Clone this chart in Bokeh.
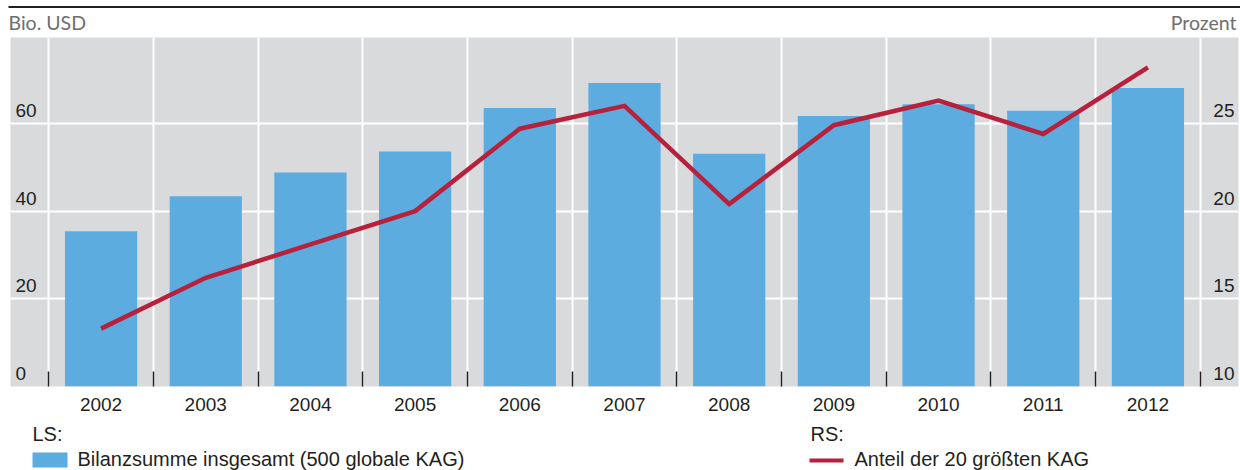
from bokeh.plotting import figure
from bokeh.layouts import column
from bokeh.models import Range1d, FixedTicker, ColumnDataSource
from bokeh.core.properties import value
from bokeh.embed import file_html
from bokeh.resources import INLINE

# Balance sheet total of the 500 largest asset managers and share of the top 20
years = ["2002", "2003", "2004", "2005", "2006", "2007",
         "2008", "2009", "2010", "2011", "2012"]
totals = [35.4, 43.4, 48.8, 53.6, 63.5, 69.2, 53.1, 61.7, 64.4, 62.9, 68.1]
share_top20 = [13.3, 16.2, 18.1, 20.0, 24.7, 26.0, 20.4, 24.9, 26.3, 24.4, 28.2]

left_ticks = [0, 20, 40, 60]
left_labels = ["0", "20", "40", "60"]
right_ticks = [10, 15, 20, 25]
right_labels = ["10", "15", "20", "25"]

left_unit = "Bio. USD"
right_unit = "Prozent"
bar_title, bar_name = "LS:", "Bilanzsumme insgesamt (500 globale KAG)"
line_title, line_name = "RS:", "Anteil der 20 größten KAG"

BAR = "#5cacdf"
LINE = "#b7213b"
BG = "#d9dadc"
INK = "#231f20"
GREY = "#6d6e70"
FONT = "Liberation Sans"
FS = "19px"
KEY_FS = "20px"
W = 1240


def strip(height):
    """A plain pixel-space strip (y grows downward) for header and key."""
    f = figure(width=W, height=height, x_range=Range1d(0, W),
               y_range=Range1d(height, 0), output_backend="svg",
               toolbar_location=None, x_axis_location=None,
               y_axis_location=None, min_border=0)
    f.grid.visible = False
    f.outline_line_color = None
    f.background_fill_color = "white"
    f.border_fill_color = "white"
    return f


# ---- header: rule and unit captions
head = strip(37)
head.quad(left=[8], right=[W], top=[5.5], bottom=[7.6], fill_color=INK,
          line_color=None)
head.text(x=[8, 1236], y=[22, 22], text=[left_unit, right_unit],
          text_align=["left", "right"], text_font=value("Lato"),
          text_font_size=value("19.5px"), text_color=GREY,
          text_baseline="alphabetic")

# ---- main chart
xs = list(range(len(years)))
x_range = Range1d(-0.865, len(years) - 1 + 0.865)
y_range = Range1d(0, 79.6)

p = figure(width=W, height=383, x_range=x_range, y_range=y_range,
           output_backend="svg", toolbar_location=None, y_axis_location=None,
           min_border_left=10, min_border_right=2, min_border_top=0,
           min_border_bottom=34)
p.extra_y_ranges = {"right": Range1d(10, 29.9)}
p.background_fill_color = BG
p.border_fill_color = "white"
p.outline_line_color = None

# grid: vertical lines between the years, horizontal at the left-axis ticks
p.xgrid.ticker = FixedTicker(ticks=[i - 0.5 for i in range(len(years) + 1)])
p.ygrid.ticker = FixedTicker(ticks=left_ticks[1:])
for g in (p.xgrid, p.ygrid):
    g.grid_line_color = "white"
    g.grid_line_width = 2

# x axis: year labels, small inward ticks between the years
ax = p.xaxis[0]
ax.ticker = FixedTicker(ticks=xs, minor_ticks=[i - 0.5 for i in range(len(years) + 1)])
ax.major_label_overrides = {i: y for i, y in enumerate(years)}
ax.axis_line_color = None
ax.major_tick_line_color = None
ax.minor_tick_in = 15
ax.minor_tick_out = 0
ax.minor_tick_line_color = INK
ax.minor_tick_line_width = 1.5
ax.major_label_text_font = FONT
ax.major_label_text_font_size = FS
ax.major_label_text_color = INK
ax.major_label_standoff = 5

src = ColumnDataSource(dict(x=xs, year=years, total=totals, share=share_top20))
bars = p.vbar(x="x", top="total", width=0.69, bottom=0, source=src,
              fill_color=BAR, line_color=None)
line = p.line(x="x", y="share", source=src, y_range_name="right",
              line_color=LINE, line_width=4.5, line_join="miter")

# tick labels drawn inside the plot area, just above their grid lines
p.text(x=[x_range.start] * len(left_ticks), y=left_ticks, text=left_labels,
       x_offset=5, y_offset=-13, text_align="left", text_baseline="alphabetic",
       text_font=value(FONT), text_font_size=value(FS), text_color=INK)
p.text(x=[x_range.end] * len(right_ticks), y=right_ticks, text=right_labels,
       y_range_name="right", x_offset=-4, y_offset=-13, text_align="right",
       text_baseline="alphabetic",
       text_font=value(FONT), text_font_size=value(FS), text_color=INK)

# ---- key below the chart
key = strip(50)
key.text(x=[32, 810], y=[13.7, 13.7], text=[bar_title, line_title],
         text_font=value(FONT), text_font_size=value(KEY_FS), text_color=INK,
         text_baseline="alphabetic")
key.quad(left=[32], right=[67], top=[32], bottom=[47], fill_color=BAR,
         line_color=None)
key.segment(x0=[809], y0=[40], x1=[843], y1=[40], line_color=LINE,
            line_width=4)
key.text(x=[77, 854], y=[38, 38], text=[bar_name, line_name],
         text_font=value(FONT), text_font_size=value(KEY_FS), text_color=INK,
         text_baseline="alphabetic")

# the chart sits in its own box so the strips keep their full-width frames
page = column(head, column(p, spacing=0), key, spacing=0)
open("out.html", "w").write(file_html(page, INLINE))
